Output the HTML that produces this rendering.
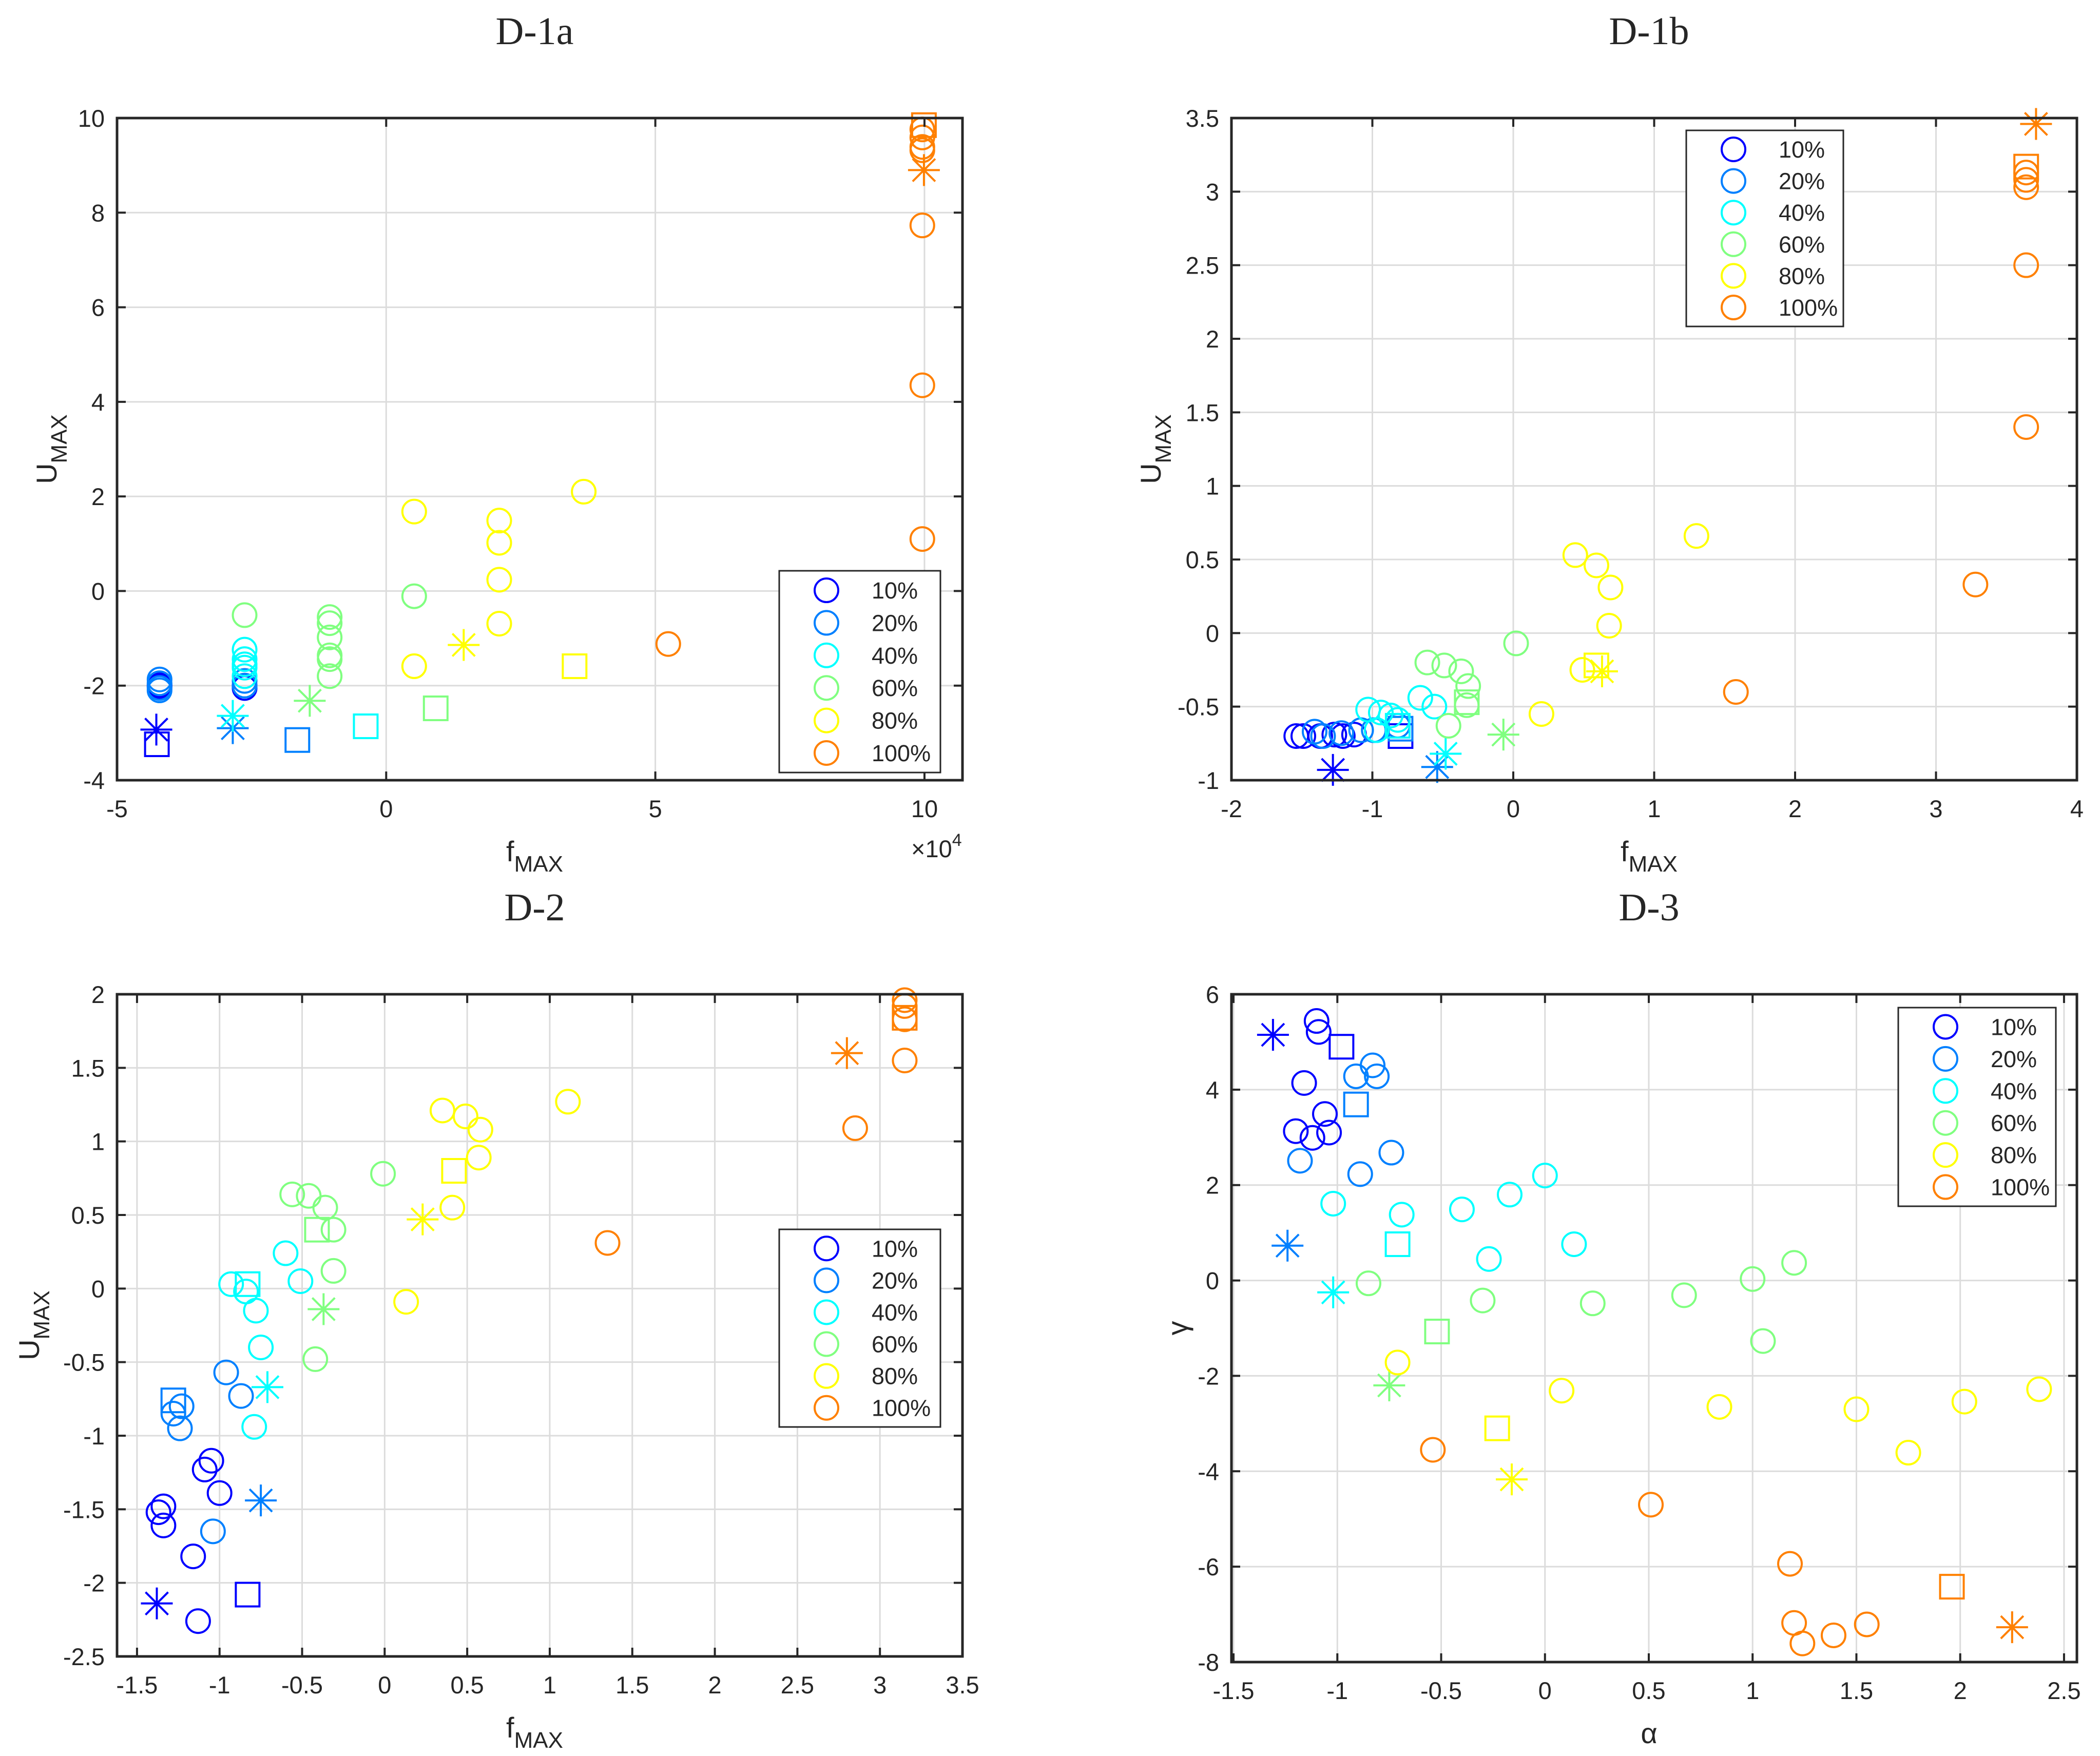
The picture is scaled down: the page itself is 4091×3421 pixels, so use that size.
<!DOCTYPE html>
<html><head><meta charset="utf-8">
<style>
html,body{margin:0;padding:0;background:#fff;}
svg{display:block;}
text{font-family:"Liberation Sans",sans-serif;fill:#262626;}
.title{font-family:"Liberation Serif",serif;font-size:76px;}
.tick{font-size:47px;}
.lab{font-size:56px;}
.leg{font-size:45px;}
</style></head>
<body>
<svg id="fig" xmlns="http://www.w3.org/2000/svg" width="4091" height="3421" viewBox="0 0 4091 3421"></svg>
<script>
const groupLabels = ["10%","20%","40%","60%","80%","100%"];
const groupColors = ["#0000ff","#0080ff","#00ffff","#80ff80","#ffff00","#ff8000"];

/* ---------- D-1a ---------- */
const d1aXTicks = [-5,0,5,10];
const d1aYTicks = [-4,-2,0,2,4,6,8,10];
const d1aCircX = [
  [-4.21,-4.21,-2.63,-2.63],
  [-4.21,-4.21,-4.21,-4.21,-2.63,-2.63],
  [-2.63,-2.63,-2.63,-2.63,-2.63],
  [-2.63,-1.05,-1.05,-1.05,-1.05,-1.05,-1.05,0.52],
  [0.52,0.52,2.1,2.1,2.1,2.1,3.67],
  [9.96,9.96,9.96,9.96,9.96,9.96,9.96,5.24]
];
const d1aCircY = [
  [-1.99,-2.02,-2.0,-2.05],
  [-1.87,-1.95,-2.05,-2.1,-1.9,-2.0],
  [-1.24,-1.44,-1.55,-1.62,-1.8],
  [-0.51,-0.55,-0.68,-0.98,-1.36,-1.44,-1.8,-0.11],
  [1.68,-1.59,1.49,1.02,0.24,-0.69,2.1],
  [9.76,9.59,9.39,9.32,7.73,4.35,1.10,-1.12]
];
const d1aStarX = [-4.27,-2.85,-2.85,-1.42,1.44,9.99];
const d1aStarY = [-2.93,-2.9,-2.64,-2.32,-1.14,8.9];
const d1aSqX = [-4.26,-1.65,-0.38,0.92,3.5,9.99];
const d1aSqY = [-3.24,-3.15,-2.86,-2.48,-1.59,9.85];

/* ---------- D-1b ---------- */
const d1bXTicks = [-2,-1,0,1,2,3,4];
const d1bYTicks = [-1,-0.5,0,0.5,1,1.5,2,2.5,3,3.5];
const d1bCircX = [
  [-1.54,-1.49,-1.37,-1.27,-1.21,-1.13],
  [-1.41,-1.35,-1.22,-1.08,-0.99,-0.82],
  [-1.03,-0.94,-0.87,-0.82,-0.97,-0.66,-0.56],
  [-0.61,-0.49,-0.37,-0.32,-0.33,-0.46,0.02],
  [0.44,0.59,0.69,0.68,0.49,0.2,1.30],
  [3.64,3.64,3.64,3.64,3.64,3.28,1.58]
];
const d1bCircY = [
  [-0.70,-0.70,-0.70,-0.69,-0.70,-0.69],
  [-0.67,-0.70,-0.68,-0.66,-0.66,-0.63],
  [-0.52,-0.54,-0.56,-0.59,-0.66,-0.44,-0.50],
  [-0.20,-0.22,-0.26,-0.36,-0.49,-0.63,-0.07],
  [0.53,0.46,0.31,0.05,-0.25,-0.55,0.66],
  [3.03,3.08,3.13,2.50,1.40,0.33,-0.40]
];
const d1bStarX = [-1.28,-0.54,-0.48,-0.07,0.63,3.71];
const d1bStarY = [-0.93,-0.91,-0.82,-0.69,-0.26,3.46];
const d1bSqX = [-0.80,-0.80,-0.82,-0.33,0.59,3.64];
const d1bSqY = [-0.70,-0.65,-0.63,-0.47,-0.22,3.17];

/* ---------- D-2 ---------- */
const d2XTicks = [-1.5,-1,-0.5,0,0.5,1,1.5,2,2.5,3,3.5];
const d2YTicks = [-2.5,-2,-1.5,-1,-0.5,0,0.5,1,1.5,2];
const d2CircX = [
  [-1.37,-1.34,-1.34,-1.16,-1.13,-1.09,-1.05,-1.0],
  [-1.28,-1.23,-1.24,-0.96,-0.87,-1.04],
  [-0.93,-0.84,-0.78,-0.75,-0.79,-0.60,-0.51],
  [-0.56,-0.46,-0.36,-0.31,-0.31,-0.42,-0.01],
  [0.35,0.49,0.58,0.57,0.41,0.13,1.11],
  [3.15,3.15,3.15,3.15,2.85,1.35]
];
const d2CircY = [
  [-1.52,-1.48,-1.61,-1.82,-2.26,-1.23,-1.17,-1.39],
  [-0.85,-0.80,-0.95,-0.57,-0.73,-1.65],
  [0.03,-0.02,-0.15,-0.40,-0.94,0.24,0.05],
  [0.64,0.63,0.55,0.40,0.12,-0.48,0.78],
  [1.21,1.17,1.08,0.89,0.55,-0.09,1.27],
  [1.96,1.92,1.83,1.55,1.09,0.31]
];
const d2StarX = [-1.38,-0.75,-0.71,-0.37,0.23,2.80];
const d2StarY = [-2.14,-1.44,-0.67,-0.14,0.47,1.60];
const d2SqX = [-0.83,-1.28,-0.83,-0.41,0.42,3.15];
const d2SqY = [-2.08,-0.76,0.03,0.40,0.80,1.84];

/* ---------- D-3 ---------- */
const d3XTicks = [-1.5,-1,-0.5,0,0.5,1,1.5,2,2.5];
const d3YTicks = [-8,-6,-4,-2,0,2,4,6];
const d3CircX = [
  [-1.10,-1.09,-1.16,-1.06,-1.20,-1.12,-1.04],
  [-0.83,-0.81,-0.91,-0.74,-0.89,-1.18],
  [-1.02,-0.69,-0.40,-0.17,0.0,0.14,-0.27],
  [-0.85,-0.30,0.23,0.67,1.0,1.20,1.05],
  [-0.71,0.08,0.84,1.50,1.75,2.02,2.38],
  [-0.54,0.51,1.18,1.20,1.24,1.39,1.55]
];
const d3CircY = [
  [5.44,5.21,4.14,3.49,3.13,2.99,3.10],
  [4.51,4.28,4.28,2.68,2.23,2.51],
  [1.61,1.38,1.49,1.80,2.20,0.76,0.45],
  [-0.06,-0.42,-0.48,-0.31,0.03,0.37,-1.27],
  [-1.72,-2.31,-2.65,-2.70,-3.61,-2.54,-2.28],
  [-3.55,-4.70,-5.94,-7.18,-7.61,-7.44,-7.21]
];
const d3StarX = [-1.31,-1.24,-1.02,-0.75,-0.16,2.25];
const d3StarY = [5.15,0.73,-0.25,-2.20,-4.17,-7.27];
const d3SqX = [-0.98,-0.91,-0.71,-0.52,-0.23,1.96];
const d3SqY = [4.90,3.69,0.76,-1.07,-3.10,-6.42];

const NS = "http://www.w3.org/2000/svg";
const svg = document.getElementById("fig");
function mk(tag, parent, attrs) {
  const e = document.createElementNS(NS, tag);
  for (const k in attrs) e.setAttribute(k, attrs[k]);
  parent.appendChild(e);
  return e;
}

const panels = [
  {key:"d1a", title:"D-1a", L:228, T:230, R:1875, B:1520, xmin:-5, xmax:10.706, ymin:-4, ymax:10,
   xt:d1aXTicks, yt:d1aYTicks, cx:d1aCircX, cy:d1aCircY, sx:d1aStarX, sy:d1aStarY, qx:d1aSqX, qy:d1aSqY,
   xl:"f", xsub:"MAX", yl:"U", ysub:"MAX", ylx:92, exp:true, leg:[1518,1112,1832,1505]},
  {key:"d1b", title:"D-1b", L:2399, T:230, R:4046, B:1520, xmin:-2, xmax:4, ymin:-1, ymax:3.5,
   xt:d1bXTicks, yt:d1bYTicks, cx:d1bCircX, cy:d1bCircY, sx:d1bStarX, sy:d1bStarY, qx:d1bSqX, qy:d1bSqY,
   xl:"f", xsub:"MAX", yl:"U", ysub:"MAX", ylx:2243, exp:false, leg:[3285,254,3591,636]},
  {key:"d2", title:"D-2", L:228, T:1937, R:1875, B:3227, xmin:-1.621, xmax:3.5, ymin:-2.5, ymax:2,
   xt:d2XTicks, yt:d2YTicks, cx:d2CircX, cy:d2CircY, sx:d2StarX, sy:d2StarY, qx:d2SqX, qy:d2SqY,
   xl:"f", xsub:"MAX", yl:"U", ysub:"MAX", ylx:58, exp:false, leg:[1518,2395,1832,2780]},
  {key:"d3", title:"D-3", L:2399, T:1937, R:4046, B:3238, xmin:-1.51, xmax:2.562, ymin:-8, ymax:6,
   xt:d3XTicks, yt:d3YTicks, cx:d3CircX, cy:d3CircY, sx:d3StarX, sy:d3StarY, qx:d3SqX, qy:d3SqY,
   xl:"α", xsub:"", yl:"γ", ysub:"", ylx:2295, exp:false, leg:[3698,1963,4005,2350]}
];

function circle(g, x, y, col) {
  const c = mk("circle", g, {cx:x, cy:y, r:23, fill:"none", stroke:col, "stroke-width":4});
  
  
}
function star(g, x, y, col) {
  const a = 31, d = 22;
  const p = mk("path", g, {d:`M${x-a} ${y}H${x+a}M${x} ${y-a}V${y+a}M${x-d} ${y-d}L${x+d} ${y+d}M${x-d} ${y+d}L${x+d} ${y-d}`,
    stroke:col, "stroke-width":4, fill:"none"});
  
  
}
function square(g, x, y, col) {
  const s = mk("rect", g, {x:x-23, y:y-23, width:46, height:46, fill:"none", stroke:col, "stroke-width":4});
  
  
}

panels.forEach(p => {
  const g = mk("g", svg, {});
  
  
  const X = v => p.L + (v - p.xmin) / (p.xmax - p.xmin) * (p.R - p.L);
  const Y = v => p.B - (v - p.ymin) / (p.ymax - p.ymin) * (p.B - p.T);

  p.xt.forEach(v => { const x = X(v); if (x > p.L + 2 && x < p.R - 2) mk("line", g, {x1:x, x2:x, y1:p.T, y2:p.B, stroke:"#dcdcdc", "stroke-width":3}); });
  p.yt.forEach(v => { const y = Y(v); if (y > p.T + 2 && y < p.B - 2) mk("line", g, {x1:p.L, x2:p.R, y1:y, y2:y, stroke:"#dcdcdc", "stroke-width":3}); });

  for (let i = 0; i < 6; i++) {
    const col = groupColors[i];
    p.cx[i].forEach((v, j) => circle(g, X(v), Y(p.cy[i][j]), col));
    star(g, X(p.sx[i]), Y(p.sy[i]), col);
    square(g, X(p.qx[i]), Y(p.qy[i]), col);
  }

  p.xt.forEach(v => {
    const x = X(v);
    mk("line", g, {x1:x, x2:x, y1:p.B, y2:p.B-17, stroke:"#262626", "stroke-width":4});
    mk("line", g, {x1:x, x2:x, y1:p.T, y2:p.T+17, stroke:"#262626", "stroke-width":4});
    const t = mk("text", g, {x:x, y:p.B + 72, "text-anchor":"middle", class:"tick"});
    t.textContent = String(v);
    
    
  });
  p.yt.forEach(v => {
    const y = Y(v);
    mk("line", g, {x1:p.L, x2:p.L+17, y1:y, y2:y, stroke:"#262626", "stroke-width":4});
    mk("line", g, {x1:p.R, x2:p.R-17, y1:y, y2:y, stroke:"#262626", "stroke-width":4});
    const t = mk("text", g, {x:p.L - 24, y:y + 17, "text-anchor":"end", class:"tick"});
    t.textContent = String(v);
    
    
  });

  const bx = mk("rect", g, {x:p.L, y:p.T, width:p.R-p.L, height:p.B-p.T, fill:"none", stroke:"#262626", "stroke-width":5});
  
  

  const tt = mk("text", g, {x:(p.L+p.R)/2 - 10, y:p.T - 144, "text-anchor":"middle", class:"title"});
  tt.textContent = p.title;
  
  

  const cxm = (p.L + p.R) / 2;
  const xlab = mk("text", g, {x:cxm - 10, y:p.B + 158, class:"lab", "text-anchor":"middle"});
  
  
  if (p.xsub) {
    xlab.innerHTML = 'f<tspan dy="20" font-size="44">MAX</tspan>';
  } else {
    xlab.setAttribute("font-family", "Liberation Serif, serif");
    xlab.textContent = p.xl;
  }
  if (p.exp) {
    const ex = mk("text", g, {x:p.R - 100, y:p.B + 150, class:"tick"});
    ex.innerHTML = '×10<tspan dy="-22" font-size="34">4</tspan>';
    
    
  }
  const cym = (p.T + p.B) / 2;
  const ylab = mk("text", g, {x:0, y:0, class:"lab", "text-anchor":"middle", transform:`translate(${p.ylx + 18},${cym}) rotate(-90)`});
  
  
  if (p.ysub) {
    ylab.innerHTML = 'U<tspan dy="20" font-size="44">MAX</tspan>';
  } else {
    ylab.setAttribute("font-family", "Liberation Serif, serif");
    ylab.textContent = p.yl;
  }

  const [lx1, ly1, lx2, ly2] = p.leg;
  const lg = mk("g", g, {});
  
  
  mk("rect", lg, {x:lx1, y:ly1, width:lx2-lx1, height:ly2-ly1, fill:"#fff", stroke:"#262626", "stroke-width":3});
  const rowH = (ly2 - ly1) / 6.2;
  for (let i = 0; i < 6; i++) {
    const ry = ly1 + rowH * (i + 0.6);
    const e = mk("g", lg, {});
    
    
    mk("circle", e, {cx:lx1 + 92, cy:ry, r:23, fill:"none", stroke:groupColors[i], "stroke-width":4});
    const t = mk("text", e, {x:lx1 + 180, y:ry + 16, class:"leg"});
    t.textContent = groupLabels[i];
  }
});
</script>
</body></html>
